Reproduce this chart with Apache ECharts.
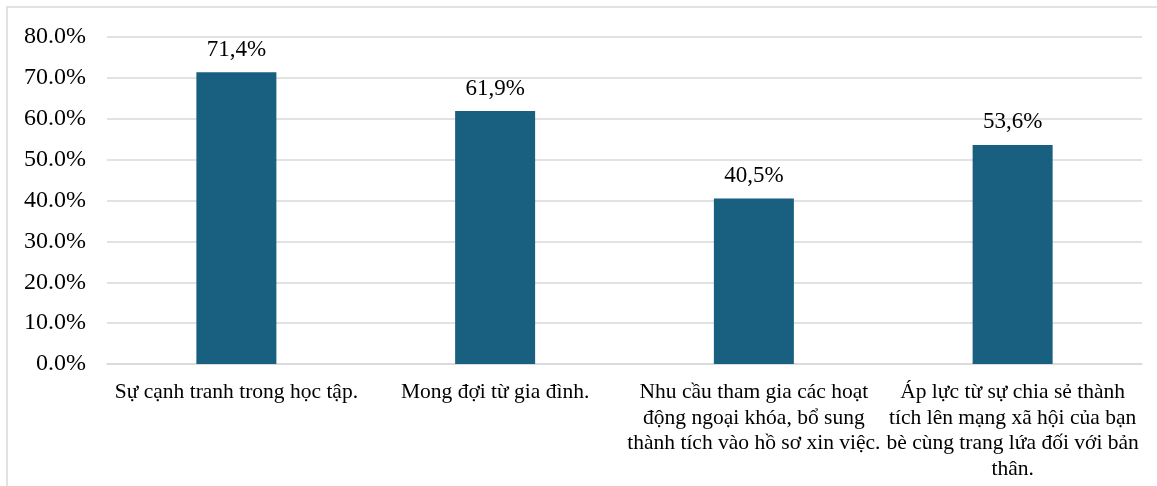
<!DOCTYPE html>
<html>
<head>
<meta charset="utf-8">
<script src="https://cdn.jsdelivr.net/npm/echarts@6/dist/echarts.min.js"></script>
<style>
  html, body { margin: 0; padding: 0; background: #fff; }
  #chart { width: 1157px; height: 486px; }
</style>
</head>
<body>
<div id="chart"></div>
<script>
// categories (line breaks as in the original)
var categories = [
  'Sự cạnh tranh trong học tập.',
  'Mong đợi từ gia đình.',
  'Nhu cầu tham gia các hoạt\nđộng ngoại khóa, bổ sung\nthành tích vào hồ sơ xin việc.',
  'Áp lực từ sự chia sẻ thành\ntích lên mạng xã hội của bạn\nbè cùng trang lứa đối với bản\nthân.'
]
var values = [71.4, 61.9, 40.5, 53.6]   // %
var yMax = 80
var yStep = 10

var serif = '"Liberation Serif", "Times New Roman", serif'

var chart = echarts.init(document.getElementById('chart'))
chart.setOption({
  backgroundColor: '#fff',
  animation: false,
  graphic: [{
    type: 'rect',
    shape: { x: 7, y: 7, width: 1200, height: 600 },
    style: { fill: 'none', stroke: '#d9d9d9', lineWidth: 1.5 }
  }],
  grid: { left: 107, right: 15, top: 37, bottom: 122 },
  xAxis: {
    type: 'category',
    data: categories,
    axisLine: { show: true, lineStyle: { color: '#d9d9d9', width: 1.5 } },
    axisTick: { show: false },
    axisLabel: {
      interval: 0,
      margin: 16,
      color: '#000',
      fontFamily: serif,
      fontSize: 21.5,
      lineHeight: 25.5,
      align: 'center'
    }
  },
  yAxis: {
    type: 'value',
    min: 0,
    max: yMax,
    interval: yStep,
    axisLine: { show: false },
    axisTick: { show: false },
    splitLine: { lineStyle: { color: '#d9d9d9', width: 1.5 } },
    axisLabel: {
      margin: 21,
      color: '#000',
      fontFamily: serif,
      fontSize: 24,
      formatter: function (v) { return v.toFixed(1) + '%' }
    }
  },
  series: [{
    type: 'bar',
    data: values,
    barWidth: 80,
    itemStyle: { color: '#185f80' },
    label: {
      show: true,
      position: 'top',
      distance: 11,
      color: '#000',
      fontFamily: serif,
      fontSize: 23,
      formatter: function (p) { return p.value.toFixed(1).replace('.', ',') + '%' }
    }
  }]
})
</script>
</body>
</html>
